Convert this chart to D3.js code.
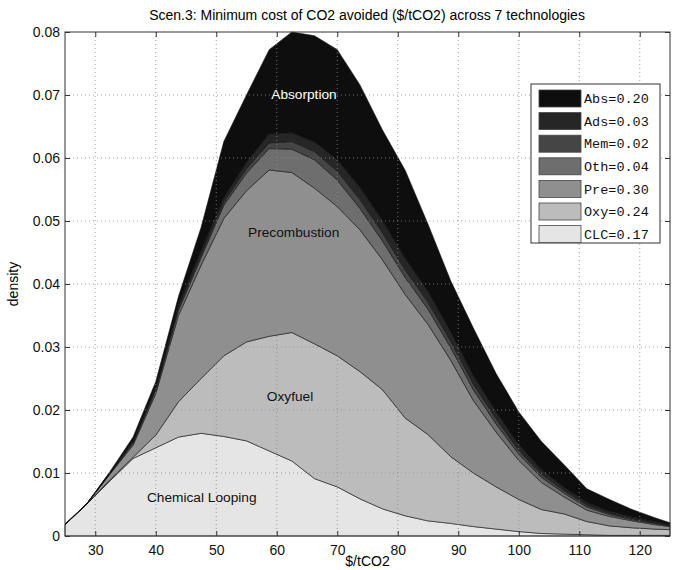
<!DOCTYPE html>
<html>
<head>
<meta charset="utf-8">
<script src="https://cdn.jsdelivr.net/npm/d3@7"></script>
<style>
  body { margin: 0; background: #fff; }
  text { font-family: "Liberation Sans", Arial, Helvetica, sans-serif; }
  .axis text { font-size: 14px; fill: #111; }
  .axis path { display: none; }
  .axis line { stroke: #333; }
  .grid line { stroke: #888; stroke-dasharray: 1,3; stroke-width: 0.8; }
  .legend text { font-family: "Liberation Mono", "Courier New", monospace; font-size: 13.5px; fill: #111; }
</style>
</head>
<body>
<div id="chart"></div>
<script>
// cost bins ($/tCO2)
var xs = [25, 28.75, 32.5, 36.25, 40, 43.75, 47.5, 51.25, 55, 58.75, 62.5, 66.25, 70, 73.75,
          77.5, 81.25, 85, 88.75, 92.5, 96.25, 100, 103.75, 107.5, 111.25, 115, 118.75, 122.5, 125];

// density contributed by each technology (stacked bottom -> top)
var clc = [0.0018, 0.0052, 0.0088, 0.0123, 0.0140, 0.0157, 0.0163, 0.0158, 0.0151, 0.0135, 0.0119, 0.0091, 0.0078, 0.0059,
           0.0043, 0.0032, 0.0024, 0.0020, 0.0015, 0.0011, 0.0007, 0.0004, 0.0003, 0.0002, 0.0001, 0.0001, 0.0001, 0.0001];
var oxy = [0, 0, 0.0002, 0.0002, 0.0020, 0.0056, 0.0087, 0.0128, 0.0157, 0.0182, 0.0204, 0.0214, 0.0208, 0.0202,
           0.0189, 0.0155, 0.0137, 0.0106, 0.0085, 0.0067, 0.0051, 0.0038, 0.0032, 0.0021, 0.0015, 0.0012, 0.0010, 0.0009];
var pre = [0, 0.0001, 0.0009, 0.0019, 0.0066, 0.0137, 0.0180, 0.0218, 0.0240, 0.0264, 0.0254, 0.0247, 0.0237, 0.0225,
           0.0206, 0.0196, 0.0175, 0.0153, 0.0115, 0.0087, 0.0062, 0.0043, 0.0027, 0.0018, 0.0015, 0.0011, 0.0007, 0.0005];
var oth = [0, 0, 0.0001, 0.0003, 0.0005, 0.0008, 0.0012, 0.0021, 0.0028, 0.0034, 0.0037, 0.0045, 0.0042, 0.0034,
           0.0030, 0.0027, 0.0024, 0.0020, 0.0017, 0.0013, 0.0010, 0.0008, 0.0006, 0.0005, 0.0003, 0.0002, 0.0002, 0.0001];
var mem = [0, 0, 0.0001, 0.0002, 0.0003, 0.0004, 0.0005, 0.0005, 0.0007, 0.0009, 0.0012, 0.0013, 0.0014, 0.0014,
           0.0013, 0.0012, 0.0011, 0.0010, 0.0009, 0.0008, 0.0006, 0.0005, 0.0004, 0.0003, 0.0002, 0.0002, 0.0001, 0.0001];
var ads = [0, 0, 0.0001, 0.0002, 0.0003, 0.0005, 0.0006, 0.0007, 0.0010, 0.0014, 0.0014, 0.0015, 0.0018, 0.0019,
           0.0019, 0.0018, 0.0017, 0.0015, 0.0013, 0.0011, 0.0009, 0.0007, 0.0005, 0.0004, 0.0003, 0.0002, 0.0002, 0.0001];
var abs = [0, 0, 0.0001, 0.0006, 0.0008, 0.0013, 0.0037, 0.0089, 0.0107, 0.0134, 0.0160, 0.0169, 0.0175, 0.0163,
           0.0144, 0.0140, 0.0107, 0.0081, 0.0076, 0.0061, 0.0052, 0.0045, 0.0036, 0.0022, 0.0019, 0.0012, 0.0006, 0.0003];

var keys = ["CLC", "Oxy", "Pre", "Oth", "Mem", "Ads", "Abs"];
var shares = { Abs: "0.20", Ads: "0.03", Mem: "0.02", Oth: "0.04", Pre: "0.30", Oxy: "0.24", CLC: "0.17" };
var fills = { Abs: "#0e0e0e", Ads: "#262626", Mem: "#454545", Oth: "#6e6e6e", Pre: "#8f8f8f", Oxy: "#bcbcbc", CLC: "#e4e5e4" };
var legendOrder = ["Abs", "Ads", "Mem", "Oth", "Pre", "Oxy", "CLC"];

var xTicks = [30, 40, 50, 60, 70, 80, 90, 100, 110, 120];
var yTicks = [0, 0.01, 0.02, 0.03, 0.04, 0.05, 0.06, 0.07, 0.08];

var areaLabels = [
  { text: "Absorption", x: 64.5, y: 0.0702, color: "#fff" },
  { text: "Precombustion", x: 62.8, y: 0.0482, color: "#111" },
  { text: "Oxyfuel", x: 62.2, y: 0.0222, color: "#111" },
  { text: "Chemical Looping", x: 47.6, y: 0.0062, color: "#111" }
];

var table = xs.map(function (x, i) {
  return { x: x, CLC: clc[i], Oxy: oxy[i], Pre: pre[i], Oth: oth[i], Mem: mem[i], Ads: ads[i], Abs: abs[i] };
});

var margin = { top: 32, right: 6, bottom: 34, left: 65 },
    width = 676 - margin.left - margin.right,
    height = 570 - margin.top - margin.bottom;

var x = d3.scaleLinear().domain([25, 125]).range([0, width]);
var y = d3.scaleLinear().domain([0, 0.08]).range([height, 0]);

var svg = d3.select("#chart").append("svg")
    .attr("width", 676)
    .attr("height", 570);

var g = svg.append("g")
    .attr("transform", "translate(" + margin.left + "," + margin.top + ")");

var series = d3.stack().keys(keys)(table);

var area = d3.area()
    .x(function (d) { return x(d.data.x); })
    .y0(function (d) { return y(d[0]); })
    .y1(function (d) { return y(d[1]); });

g.selectAll(".layer")
    .data(series)
    .enter().append("path")
    .attr("class", "layer")
    .attr("d", area)
    .style("fill", function (d) { return fills[d.key]; })
    .style("stroke", "#111")
    .style("stroke-width", 0.6)
    .style("stroke-linejoin", "round");

// dotted grid on top of the areas
g.append("g")
    .attr("class", "grid")
    .selectAll("line")
    .data(xTicks).enter().append("line")
    .attr("x1", function (d) { return x(d); })
    .attr("x2", function (d) { return x(d); })
    .attr("y1", 0).attr("y2", height);

g.append("g")
    .attr("class", "grid")
    .selectAll("line")
    .data(yTicks.slice(1, -1)).enter().append("line")
    .attr("y1", function (d) { return y(d); })
    .attr("y2", function (d) { return y(d); })
    .attr("x1", 0).attr("x2", width);

g.selectAll(".area-label")
    .data(areaLabels).enter().append("text")
    .attr("class", "area-label")
    .attr("x", function (d) { return x(d.x); })
    .attr("y", function (d) { return y(d.y); })
    .attr("text-anchor", "middle")
    .attr("dy", "0.35em")
    .style("font-size", "13.7px")
    .style("fill", function (d) { return d.color; })
    .text(function (d) { return d.text; });

var yFmt = function (d) { return d === 0 ? "0" : d3.format(".2f")(d); };

g.append("g").attr("class", "axis")
    .attr("transform", "translate(0," + height + ")")
    .call(d3.axisBottom(x).tickValues(xTicks).tickSizeInner(-5).tickSizeOuter(0).tickPadding(9));

g.append("g").attr("class", "axis")
    .call(d3.axisTop(x).tickValues(xTicks).tickSizeInner(-5).tickSizeOuter(0).tickFormat(""));

g.append("g").attr("class", "axis")
    .call(d3.axisLeft(y).tickValues(yTicks).tickSizeInner(-5).tickSizeOuter(0).tickPadding(5).tickFormat(yFmt));

g.append("g").attr("class", "axis")
    .attr("transform", "translate(" + width + ",0)")
    .call(d3.axisRight(y).tickValues(yTicks).tickSizeInner(-5).tickSizeOuter(0).tickFormat(""));

// axes box
g.append("rect")
    .attr("width", width)
    .attr("height", height)
    .style("fill", "none")
    .style("stroke", "#333")
    .style("stroke-width", 1);

// legend
var legend = svg.append("g").attr("class", "legend");
legend.append("rect")
    .attr("x", 531).attr("y", 84)
    .attr("width", 129).attr("height", 159)
    .style("fill", "#fff")
    .style("stroke", "#333")
    .style("stroke-width", 1);

var rows = legend.selectAll(".row")
    .data(legendOrder).enter().append("g")
    .attr("class", "row")
    .attr("transform", function (d, i) { return "translate(539," + (90 + i * 22.6) + ")"; });

rows.append("rect")
    .attr("width", 42).attr("height", 17)
    .style("fill", function (d) { return fills[d]; })
    .style("stroke", "#444")
    .style("stroke-width", 0.8);

rows.append("text")
    .attr("x", 45).attr("y", 8.5)
    .attr("dy", "0.35em")
    .text(function (d) { return d + "=" + shares[d]; });

svg.append("text")
    .attr("x", 367).attr("y", 20)
    .attr("text-anchor", "middle")
    .style("font-size", "14px")
    .text("Scen.3: Minimum cost of CO2 avoided ($/tCO2) across 7 technologies");

svg.append("text")
    .attr("x", margin.left + width / 2).attr("y", 566)
    .attr("text-anchor", "middle")
    .style("font-size", "14px")
    .text("$/tCO2");

svg.append("text")
    .attr("transform", "translate(18," + (margin.top + height / 2) + ") rotate(-90)")
    .attr("text-anchor", "middle")
    .style("font-size", "14px")
    .text("density");
</script>
</body>
</html>
